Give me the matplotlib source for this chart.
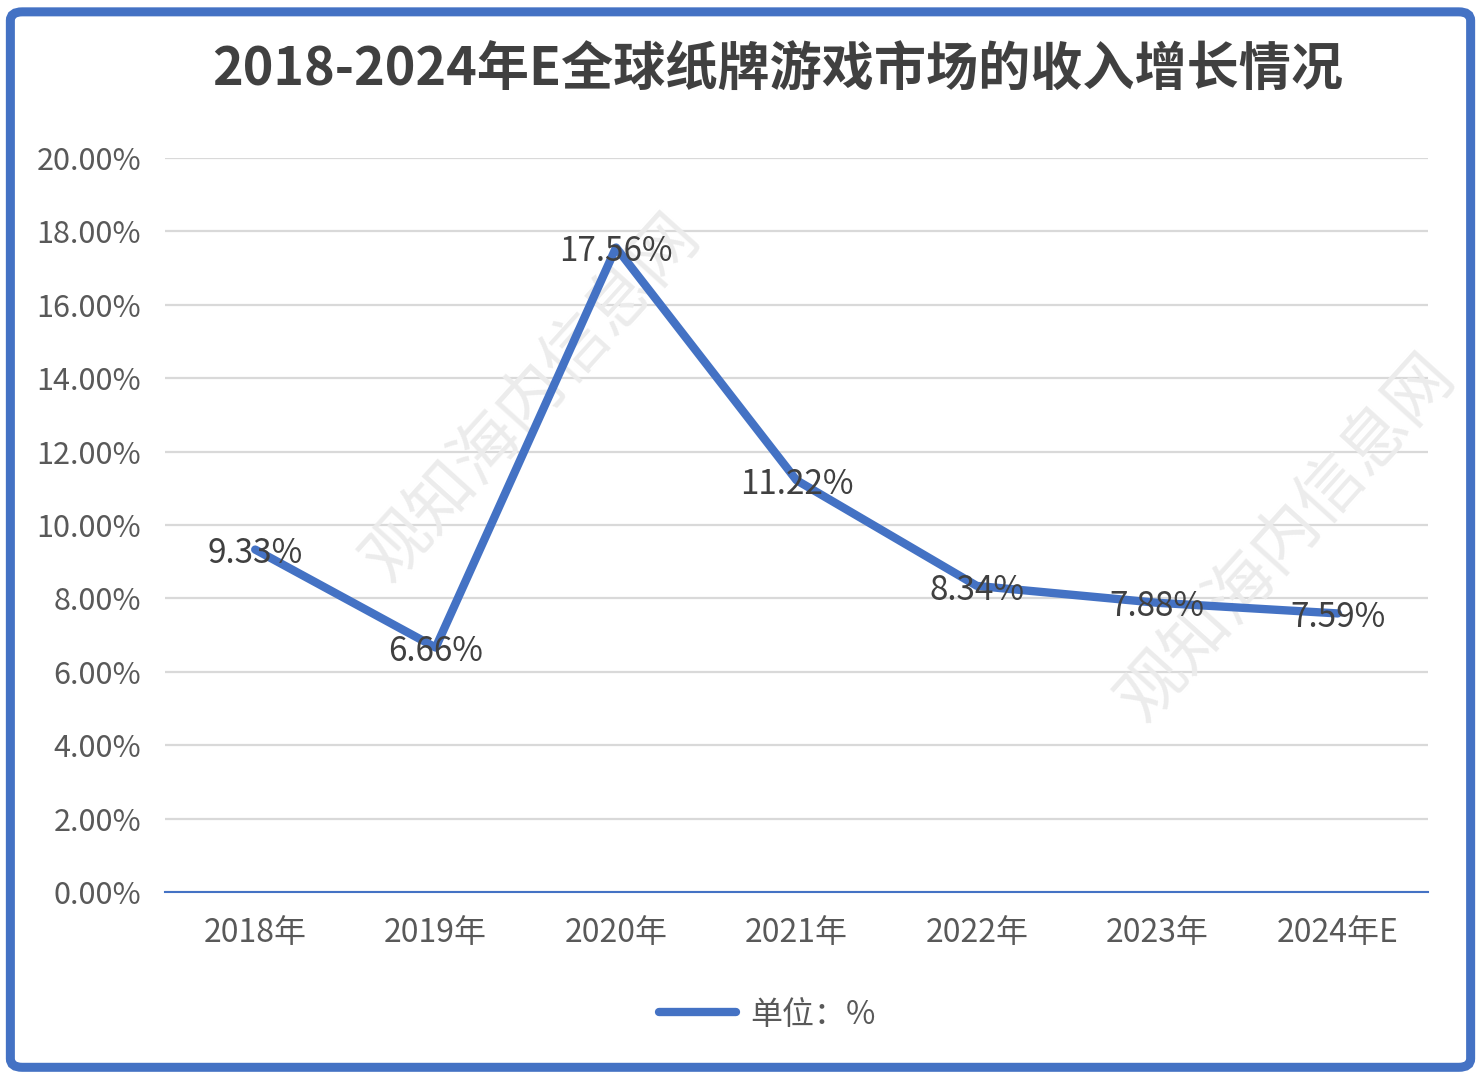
import matplotlib
matplotlib.use('Agg')
import matplotlib.pyplot as plt
from matplotlib.patches import FancyBboxPatch
from matplotlib.ticker import FuncFormatter

plt.rcParams['font.family'] = ['Noto Sans CJK SC', 'DejaVu Sans']

# data
years = ['2018年', '2019年', '2020年', '2021年', '2022年', '2023年', '2024年E']
growth = [9.33, 6.66, 17.56, 11.22, 8.34, 7.88, 7.59]
title = '2018-2024年E全球纸牌游戏市场的收入增长情况'
legend_label = '单位：%'

blue = '#4472C4'
grey = '#595959'

fig = plt.figure(figsize=[14.81, 10.77], dpi=100)
ax = fig.add_axes([0.1114, 0.1718, 0.8528, 0.6815])

x = list(range(len(years)))
ax.plot(x, growth, color=blue, linewidth=6, solid_capstyle='round',
        solid_joinstyle='round', label=legend_label, zorder=3)

# data labels sit right on the points
for xi, v in zip(x, growth):
    ax.annotate('%.2f%%' % v, (xi, v), xytext=(0, -3), textcoords='offset points',
                ha='center', va='center', fontsize=24, color='#404040', zorder=4)

ax.set_xlim(-0.5, len(years) - 0.5)
ax.set_ylim(0, 20)
ax.set_yticks([i * 2 for i in range(11)])
ax.yaxis.set_major_formatter(FuncFormatter(lambda v, p: '%.2f%%' % v))
ax.set_xticks(x)
ax.set_xticklabels(years)
ax.tick_params(axis='both', length=0, labelcolor=grey)
ax.tick_params(axis='y', labelsize=22, pad=17)
ax.tick_params(axis='x', labelsize=23, pad=18)

ax.grid(axis='y', color='#d9d9d9', linewidth=1.6)
ax.set_axisbelow(True)
for s in ['top', 'right', 'left']:
    ax.spines[s].set_visible(False)
ax.spines['bottom'].set_color(blue)
ax.spines['bottom'].set_linewidth(1.5)

fig.text(0.525, 0.935, title, ha='center', va='center', fontsize=37.5,
         fontweight='bold', color='#404040')

leg = fig.legend(loc='center', bbox_to_anchor=(0.518, 0.058), frameon=False,
                 fontsize=23, handlelength=2.4, handletextpad=0.45)
for t in leg.get_texts():
    t.set_color(grey)

# faint watermark text, kept under the line
for (wx, wy) in [(0.36, 0.63), (0.87, 0.5)]:
    ax.text(wx, wy, '观知海内信息网', rotation=48, fontsize=48,
            color='#ececec', ha='center', va='center', zorder=1,
            transform=fig.transFigure, clip_on=False)

# blue rounded frame around the chart
frame = FancyBboxPatch((0.007, 0.009), 0.986, 0.98,
                       boxstyle='round,pad=0,rounding_size=0.008',
                       transform=fig.transFigure, fill=False,
                       edgecolor=blue, linewidth=6.5, zorder=10)
fig.patches.append(frame)

plt.savefig('out.png', dpi=100)
